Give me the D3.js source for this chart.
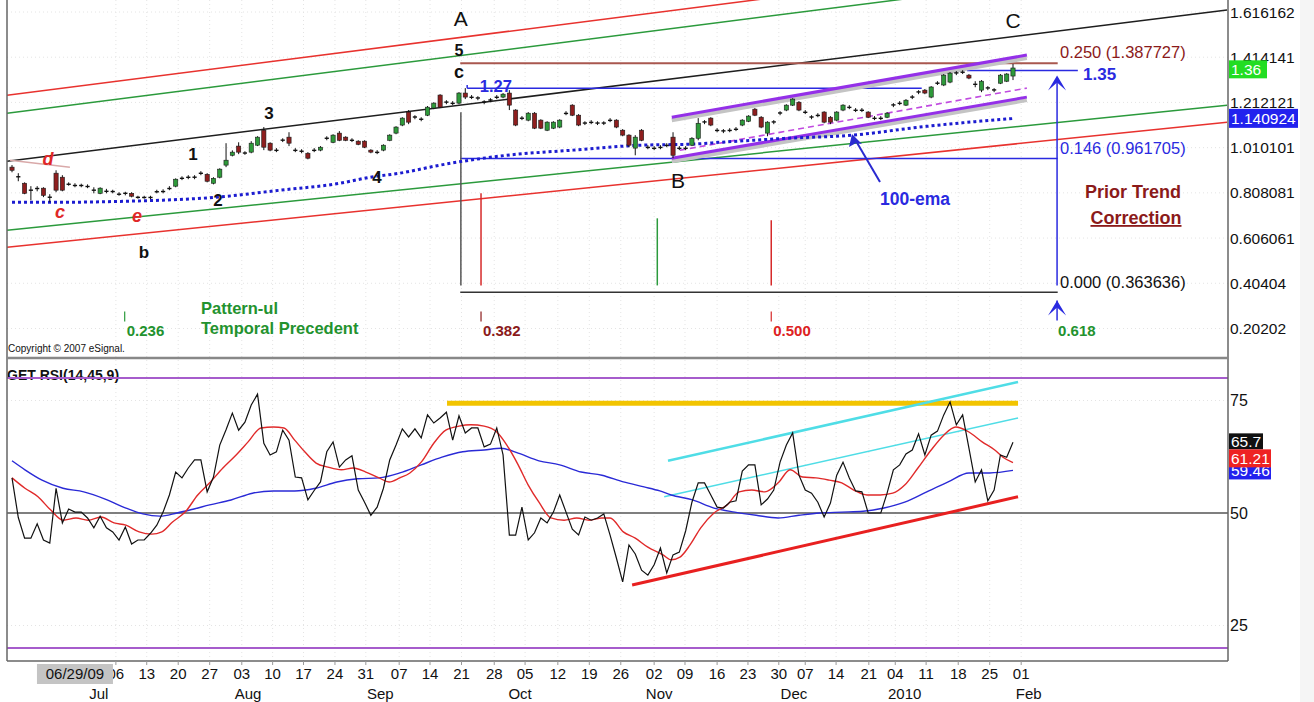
<!DOCTYPE html>
<html><head><meta charset="utf-8">
<script src="https://cdn.jsdelivr.net/npm/d3@7"></script>
<style>
html,body{margin:0;padding:0;background:#fff;}
svg{display:block;font-family:"Liberation Sans",Arial,sans-serif;}
</style></head><body>
<svg id="c" width="1314" height="702"></svg>
<script>
// ---------------- DATA ----------------
const openP=[.923,.882,.851,.822,.829,.829,.791,.896,.878,.849,.842,.840,.838,.822,.806,.817,.813,.804,.804,.806,.790,.786,.789,.811,.815,.826,.838,.872,.876,.879,.894,.891,.851,.878,.932,.976,1.017,.987,.990,1.021,1.088,1.030,.999,1.042,1.057,.999,.993,.985,.997,.999,1.053,1.034,1.075,1.057,1.044,1.039,1.039,.999,.990,.999,1.043,1.075,1.111,1.169,1.146,1.138,1.155,1.187,1.245,1.212,1.209,1.209,1.254,1.236,1.231,1.215,1.222,1.236,1.236,1.254,1.178,1.143,1.133,1.164,1.133,1.088,1.097,1.102,1.164,1.200,1.155,1.119,1.124,1.119,1.121,1.133,1.133,1.088,1.066,1.008,1.088,1.012,1.008,1.010,1.021,1.057,1.008,1.006,1.021,1.052,1.124,1.142,1.088,1.084,1.086,1.093,1.111,1.128,1.182,1.146,1.075,1.124,1.164,1.178,1.200,1.213,1.169,1.146,1.155,1.169,1.146,1.133,1.178,1.191,1.178,1.176,1.169,1.142,1.140,1.146,1.200,1.209,1.200,1.234,1.258,1.267,1.236,1.296,1.290,1.303,1.343,1.348,1.334,1.294,1.267,1.276,1.267,1.298,1.307,1.330];
const highP=[.932,.896,.855,.838,.838,.833,.802,.909,.887,.855,.851,.849,.846,.833,.833,.826,.822,.811,.813,.811,.795,.795,.795,.822,.824,.838,.873,.882,.887,.887,.905,.896,.878,.918,1.030,.998,1.034,.994,1.039,1.061,1.102,1.034,1.008,1.052,1.079,1.008,1.003,.990,1.008,1.017,1.061,1.070,1.084,1.061,1.052,1.043,1.043,1.003,.999,1.025,1.070,1.106,1.146,1.178,1.155,1.146,1.196,1.213,1.249,1.222,1.218,1.258,1.276,1.245,1.240,1.222,1.231,1.245,1.254,1.267,1.182,1.151,1.169,1.169,1.137,1.128,1.128,1.137,1.173,1.204,1.160,1.128,1.133,1.128,1.128,1.142,1.137,1.093,1.070,1.066,1.093,1.021,1.017,1.021,1.030,1.079,1.017,1.017,1.057,1.142,1.133,1.146,1.097,1.093,1.097,1.102,1.137,1.155,1.187,1.151,1.128,1.133,1.173,1.204,1.231,1.218,1.178,1.155,1.164,1.173,1.151,1.173,1.204,1.200,1.187,1.187,1.173,1.151,1.151,1.169,1.209,1.218,1.227,1.245,1.267,1.272,1.285,1.307,1.339,1.348,1.352,1.356,1.339,1.307,1.312,1.285,1.276,1.339,1.343,1.384];
const lowP=[.900,.860,.802,.775,.815,.789,.766,.811,.815,.840,.833,.833,.829,.806,.802,.806,.806,.795,.797,.788,.782,.782,.780,.806,.806,.820,.833,.865,.869,.869,.887,.855,.846,.873,.923,.971,.981,.978,.985,1.017,.999,.994,.990,1.035,1.017,.990,.985,.958,.990,.994,1.043,1.030,1.039,1.039,1.035,1.021,1.008,.985,.981,.994,1.039,1.070,1.106,1.115,1.137,1.128,1.151,1.182,1.187,1.204,1.200,1.204,1.227,1.227,1.222,1.204,1.213,1.227,1.231,1.178,1.106,1.133,1.128,1.093,1.093,1.084,1.093,1.097,1.155,1.151,1.106,1.111,1.115,1.111,1.111,1.124,1.097,1.061,1.012,.976,1.039,1.003,.999,1.003,1.012,.963,.999,.999,1.017,1.043,1.115,1.106,1.079,1.075,1.079,1.084,1.106,1.124,1.151,1.097,1.061,1.115,1.155,1.173,1.196,1.173,1.160,1.137,1.146,1.119,1.115,1.128,1.173,1.182,1.169,1.169,1.142,1.133,1.133,1.142,1.191,1.200,1.196,1.227,1.249,1.249,1.231,1.290,1.285,1.298,1.334,1.339,1.316,1.280,1.258,1.267,1.258,1.294,1.303,1.312];
const closeP=[.909,.878,.806,.818,.826,.797,.786,.820,.820,.844,.840,.842,.835,.818,.829,.813,.815,.800,.808,.793,.786,.789,.786,.815,.813,.829,.869,.874,.879,.877,.897,.860,.873,.914,.954,.990,.990,.985,1.030,1.057,1.012,.999,.997,1.045,1.030,.997,.995,.963,.999,1.012,1.051,1.066,1.043,1.043,1.042,1.025,1.012,.990,.988,1.021,1.066,1.102,1.142,1.124,1.148,1.136,1.191,1.209,1.191,1.215,1.207,1.254,1.236,1.234,1.233,1.213,1.224,1.234,1.249,1.200,1.111,1.140,1.164,1.097,1.097,1.124,1.124,1.133,1.162,1.155,1.111,1.121,1.122,1.121,1.119,1.131,1.102,1.066,1.021,1.057,1.043,1.010,1.006,1.012,1.019,.976,1.006,1.008,1.052,1.119,1.126,1.111,1.086,1.086,1.088,1.091,1.133,1.151,1.155,1.102,1.124,1.126,1.166,1.200,1.227,1.178,1.167,1.148,1.153,1.124,1.124,1.169,1.200,1.189,1.176,1.178,1.146,1.140,1.142,1.164,1.202,1.207,1.222,1.238,1.260,1.254,1.281,1.300,1.334,1.343,1.345,1.346,1.321,1.292,1.307,1.278,1.269,1.334,1.339,1.366];

// 100-ema readings [bar, price]
const emaBars=[0,7.6,17.2,23.5,32.2,42.6,52.1,56.9,61.6,68,78.6,89.1,99.8,108.2,112.5,123.1,133.6,144.2,159];
const emaVals=[0.766,0.766,0.770,0.775,0.788,0.820,0.851,0.878,0.896,0.932,0.976,0.999,1.021,1.026,1.034,1.052,1.066,1.102,1.141];

// RSI(14) per bar
const rsi=[57.8,49,44.4,44.4,47.6,44,43.3,55.5,47.8,50.9,50.2,50.2,48.9,46.7,49.3,46.7,45.8,44,46.9,43.1,44,44,45.5,47.3,50.2,54,59.1,57.8,60,61.8,61.8,54.7,58,65.1,68.5,72.2,68.4,70.2,74,76.4,65.5,62.9,63.6,68.4,66.2,58,57.8,52.9,55,56.9,63.6,65.8,60.2,61.8,62.7,55.1,52.4,49.5,51.3,55.5,61.8,65.1,68.7,66.9,68.7,66.7,71.8,70,71.1,72.4,66.2,71.6,67.8,68.9,68.9,64.7,65.3,68.9,62.9,45.1,45.1,51.3,44,45.6,48.9,47.8,50.2,54,50.2,46.4,45.1,49.1,48.4,48.9,49.8,45.1,40,34.7,42.9,40.9,37.3,36.2,38.5,42.2,36.7,40.7,41.3,46,52.4,56.7,56.7,54,51.3,51.1,52.4,52.7,59.3,60.7,60.7,51.8,53.1,55.1,61.3,65.1,67.8,58.4,55.1,54.4,52.4,49.1,52.2,58.4,61.3,57.8,54.9,54.7,50,50,50,54.4,59.6,60.7,63.1,64,67.6,62.9,67.3,68.2,71.8,74.7,69.6,71.8,64.4,56.9,59.6,52.7,55.1,62.9,62.4,65.7];
// RSI 9-period average readings
const ma9Bars=[0,2.06,4.13,6.12,8.1,10.17,12.07,14.14,16.2,18.1,20.2,22.2,23.8,25.5,27.5,29.5,31.4,33.5,35.6,37.5,39.55,41.5,43.2,44.9,46.5,48.3,50.2,52.3,54.2,56.2,58.3,59.9,61.6,63.2,65,67,68.9,71,72.9,75,77,78.6,80.4,82,83.7,85.6,87.7,89.7,91.7,93.7,95,97.1,99,101,103.4,104.7,106.1,107.7,109.4,111.5,113.6,115.5,117.5,119.6,121.7,123.6,125.6,127.7,129.8,131.8,133.7,135.8,137.9,139.9,141.8,143.9,146,148,149.9,152,154.1,156.1,157.4,159];
const ma9Vals=[57.8,55.5,53.6,50.7,48.4,48.9,48.4,49.1,47.8,47.3,45.8,45.3,45.8,48,50.2,54,56.7,60,62.9,65.8,68.9,69.1,68.9,66.2,63.6,61.1,60.2,59.6,60,59.1,57.8,56.9,57.8,58.9,61.3,65.5,68.4,69.3,69.6,69.3,68,65.1,60.7,56.2,52.4,48.9,48.4,48.9,48.4,48.9,48.9,45.8,44.4,42.4,40.7,39.6,40.2,42.9,46.7,50,51.8,54.7,55.1,54.7,56.7,59.6,58,57.8,57.3,56.7,55.1,54,54,54.4,56.2,60,64,67.3,69.1,68,65.8,64,62.4,61.21];
// RSI 45-period average readings
const ma45Bars=[0,2.06,4.77,8.1,11.4,14.8,18.1,20.8,23.5,26.2,28.9,31.4,34.8,38.2,41.5,44.9,48.2,51.6,54.9,58.3,61.6,65,68.3,71.6,75,77.7,80.4,83.7,87,90.4,93.7,97.1,100.4,102.9,104.7,108.1,111.5,114.8,118.2,121.7,125,128.3,131.8,135.2,138.5,141.8,145.3,148.7,152,155.3,159];
const ma45Vals=[61.6,59.6,57.3,55.5,54.7,53.1,51.1,49.8,49.3,50,50.9,51.8,52.9,54.4,54.9,54.9,55.5,56.9,57.6,57.8,58.9,60.7,62.4,63.6,64,64.4,63.3,61.6,60.7,59.1,58.4,56.9,55.8,54.9,54,52.9,51.1,50.2,49.5,48.9,49.5,50,50.2,50.4,51.1,52.4,54.7,56.9,58.9,58.9,59.46];

// axis tick labels
const priceTicks=[1.616162,1.414141,1.212121,1.010101,0.808081,0.606061,0.40404,0.20202];
const priceTickLabels=['1.616162','1.414141','1.212121','1.010101','0.808081','0.606061','0.40404','0.20202'];
const rsiTicks=[75,50,25];
const weekTickBars=[16.5,21.4,26.4,31.4,36.5,41.4,46.3,51.3,56.2,61.5,66.4,71.4,76.6,81.5,86.7,91.7,96.7,102.0,106.9,112.0,116.9,121.8,126.0,130.9,136.1,140.3,145.2,150.3,155.3,160.3];
const weekTickLabels=['06','13','20','27','03','10','17','24','31','07','14','21','28','05','12','19','26','02','09','16','23','30','07','14','21','04','11','18','25','01'];
const monthLabels=['Jul','Aug','Sep','Oct','Nov','Dec','2010','Feb'];
const monthBars=[13.8,37.5,58.5,80.7,102.8,124.2,141.8,161.5];
const cursorDate='06/29/09', cursorBar=10.0;

// annotation levels (bar, price)
const channelLines=[
 {b1:-0.79,p1:1.2447,b2:193,p2:1.9384,c:'#e8322e'},
 {b1:-0.79,p1:1.1642,b2:193,p2:1.8578,c:'#2b9a3c'},
 {b1:-0.79,p1:0.9494,b2:193,p2:1.6251,c:'#1e1e1e'},
 {b1:-0.79,p1:0.6406,b2:193,p2:1.2000,c:'#2b9a3c'},
 {b1:-0.79,p1:0.5645,b2:193,p2:1.1239,c:'#e8322e'}
];
const fibLevels=[0.250,0.146,0.000];
const fibPrices=[1.387727,0.961705,0.363636];
const lastClose=1.36, lastEma=1.140924;
const rsiLast=65.7, ma9Last=61.21, ma45Last=59.46;

// ---------------- DRAW ----------------
const svg=d3.select('#c');
const L=7,R=1228,PT=0,PB=357,RT=359,RB=661;
const x=d3.scaleLinear().domain([0,159]).range([12,1013]);
const yP=d3.scaleLinear().domain([0.20202,1.616162]).range([328.5,12]);
const yR=d3.scaleLinear().domain([25,75]).range([625.5,400.5]);

svg.append('rect').attr('width',1314).attr('height',702).attr('fill','#fff');
svg.append('rect').attr('x',1300).attr('width',14).attr('height',702).attr('fill','#f5f5f5');
const defs=svg.append('defs');
defs.append('clipPath').attr('id','cp').append('rect').attr('x',L).attr('y',PT).attr('width',R-L).attr('height',PB-PT);
defs.append('clipPath').attr('id','cr').append('rect').attr('x',L).attr('y',RT).attr('width',R-L).attr('height',RB-RT);

// faint grid
const grid=svg.append('g').attr('stroke','#e4e4e4').attr('stroke-dasharray','1,3').attr('stroke-width',1);
weekTickBars.forEach(b=>{grid.append('line').attr('x1',x(b)).attr('x2',x(b)).attr('y1',PT).attr('y2',RB);});
priceTicks.forEach(p=>{grid.append('line').attr('x1',L).attr('x2',R).attr('y1',yP(p)).attr('y2',yP(p));});
[75,25].forEach(v=>{grid.append('line').attr('x1',L).attr('x2',R).attr('y1',yR(v)).attr('y2',yR(v));});

const gp=svg.append('g').attr('clip-path','url(#cp)');
// channel lines
channelLines.forEach(l=>{
  gp.append('line').attr('x1',x(l.b1)).attr('y1',yP(l.p1)).attr('x2',x(l.b2)).attr('y2',yP(l.p2))
   .attr('stroke',l.c).attr('stroke-width',1.5);
});
// small 'd' line
gp.append('line').attr('x1',x(-0.3)).attr('y1',yP(0.9539)).attr('x2',x(9.2)).attr('y2',yP(0.9226)).attr('stroke','#d9a9a9').attr('stroke-width',1.5);

// fib horizontal levels
const fx1=71.2,fx2=166.1;
gp.append('line').attr('x1',x(fx1)).attr('x2',x(fx2)).attr('y1',yP(fibPrices[0])).attr('y2',yP(fibPrices[0])).attr('stroke','#a9574f').attr('stroke-width',2);
gp.append('line').attr('x1',x(fx1)).attr('x2',x(fx2)).attr('y1',yP(fibPrices[1])).attr('y2',yP(fibPrices[1])).attr('stroke','#2a2ae0').attr('stroke-width',1.5);
gp.append('line').attr('x1',x(fx1)).attr('x2',x(fx2)).attr('y1',yP(fibPrices[2])).attr('y2',yP(fibPrices[2])).attr('stroke','#333').attr('stroke-width',1.5);
// 1.27 and 1.35 lines
gp.append('line').attr('x1',x(72.3)).attr('x2',x(144.5)).attr('y1',yP(1.275)).attr('y2',yP(1.275)).attr('stroke','#2a2ae0').attr('stroke-width',1.5);
gp.append('line').attr('x1',x(72.3)).attr('x2',x(72.3)).attr('y1',yP(1.275)).attr('y2',yP(1.29)).attr('stroke','#2a2ae0').attr('stroke-width',1.5);
gp.append('line').attr('x1',x(151.7)).attr('x2',x(169.3)).attr('y1',yP(1.355)).attr('y2',yP(1.355)).attr('stroke','#2a2ae0').attr('stroke-width',1.5);
// verticals
const vbot=0.3945;
[[71.3,1.1687,'#555'],[74.5,0.8062,'#d62a2a'],[102.5,0.6943,'#2b9a3c'],[120.6,0.6853,'#d62a2a'],[166.0,1.3119,'#2a2ae0']].forEach(v=>{
  gp.append('line').attr('x1',x(v[0])).attr('x2',x(v[0])).attr('y1',yP(v[1])).attr('y2',yP(vbot)).attr('stroke',v[2]).attr('stroke-width',1.5);
});
// fib time ticks
[[17.9,'#2b9a3c'],[74.5,'#8b1a1a'],[120.6,'#d62a2a']].forEach(t=>{
  gp.append('line').attr('x1',x(t[0])).attr('x2',x(t[0])).attr('y1',yP(0.2781)).attr('y2',yP(0.2334)).attr('stroke',t[1]).attr('stroke-width',1.2);
});
// arrowheads on blue vertical
const ax=x(166.0);
function arrowUp(tipY){
  gp.append('path').attr('d',`M${ax-9},${tipY+15} L${ax},${tipY} L${ax+9},${tipY+15} L${ax},${tipY+7} Z`).attr('fill','#2a2ae0');
}
arrowUp(yP(1.35)+4);
arrowUp(yP(0.3274));
gp.append('line').attr('x1',ax).attr('x2',ax).attr('y1',yP(0.3274)).attr('y2',yP(0.3274)+20).attr('stroke','#2a2ae0').attr('stroke-width',1.5);

// purple channel
const purple=[{b1:104.8,p1:1.1463,b2:161.2,p2:1.4237},{b1:104.8,p1:0.9628,b2:161.2,p2:1.2358}];
purple.forEach(l=>{
  gp.append('line').attr('x1',x(l.b1)).attr('y1',yP(l.p1)+3).attr('x2',x(l.b2)).attr('y2',yP(l.p2)+3).attr('stroke','#c4c4c4').attr('stroke-width',4);
});
purple.forEach(l=>{
  gp.append('line').attr('x1',x(l.b1)).attr('y1',yP(l.p1)).attr('x2',x(l.b2)).attr('y2',yP(l.p2)).attr('stroke','#9430e8').attr('stroke-width',3);
});
gp.append('line').attr('x1',x(106.1)).attr('y1',yP(0.9986)).attr('x2',x(161.2)).attr('y2',yP(1.2761)).attr('stroke','#c04ae0').attr('stroke-width',1.6).attr('stroke-dasharray','6,4');

// ema dotted
const emaLine=d3.line().x((d,i)=>x(emaBars[i])).y(d=>yP(d)).curve(d3.curveMonotoneX);
gp.append('path').attr('d',emaLine(emaVals)).attr('fill','none').attr('stroke','#1c1cd0').attr('stroke-width',3).attr('stroke-dasharray','3,3');

// candles
const cw=4.2;
const cg=gp.append('g');
openP.forEach((o,i)=>{
  const c=closeP[i],h=highP[i],l=lowP[i];
  cg.append('line').attr('x1',x(i)).attr('x2',x(i)).attr('y1',yP(h)).attr('y2',yP(l)).attr('stroke','#111').attr('stroke-width',1);
  const top=yP(Math.max(o,c)),bot=yP(Math.min(o,c));
  const hgt=bot-top;
  if(hgt<1.6){
    cg.append('line').attr('x1',x(i)-cw/2).attr('x2',x(i)+cw/2).attr('y1',(top+bot)/2).attr('y2',(top+bot)/2).attr('stroke','#111').attr('stroke-width',1.4);
  } else {
    cg.append('rect').attr('x',x(i)-cw/2).attr('y',top).attr('width',cw).attr('height',hgt)
      .attr('fill',c>=o?'#2e9a3a':'#8e1e1e').attr('stroke','#1a1a1a').attr('stroke-width',0.6);
  }
});

// ---- price panel texts ----
const T=svg.append('g');
function txt(s,xx,yy,o){
  const t=T.append('text').attr('x',xx).attr('y',yy).text(s)
   .attr('font-size',o.fs||16).attr('fill',o.c||'#111')
   .attr('font-weight',o.b?'bold':'normal').attr('text-anchor',o.a||'start');
  if(o.i) t.attr('font-style','italic');
  if(o.u) t.attr('text-decoration','underline');
  return t;
}
txt('A',x(71.3),26,{fs:21,a:'middle'});
txt('5',x(71),56,{fs:16,b:1,a:'middle'});
txt('c',x(71),78,{fs:18,b:1,a:'middle'});
txt('1.27',x(74.3),92,{fs:16.5,b:1,c:'#2a2ae0'});
txt('B',x(105.8),188,{fs:21,a:'middle'});
txt('C',x(159),28,{fs:21,a:'middle'});
txt('1',193,160,{fs:17,b:1,a:'middle'});
txt('2',218,206,{fs:17,b:1,a:'middle'});
txt('3',269,119,{fs:17,b:1,a:'middle'});
txt('4',377,183,{fs:17,b:1,a:'middle'});
txt('d',48,165,{fs:18,b:1,i:1,c:'#e02828',a:'middle'});
txt('c',60,218,{fs:18,b:1,i:1,c:'#e02828',a:'middle'});
txt('e',137,222,{fs:18,b:1,i:1,c:'#e02828',a:'middle'});
txt('b',144,258,{fs:17,b:1,a:'middle'});
txt('0.250 (1.387727)',1060,58,{fs:16.5,c:'#8b1a1a'});
txt('1.35',1083,80,{fs:17,b:1,c:'#2a2ae0'});
txt('0.146 (0.961705)',1060,154,{fs:16.5,c:'#2a2ae0'});
txt('Prior Trend',1133,198,{fs:18,b:1,c:'#8b1a1a',a:'middle'});
txt('Correction',1136,224,{fs:18,b:1,c:'#8b1a1a',a:'middle',u:1});
txt('0.000 (0.363636)',1060,288,{fs:16.5,c:'#111'});
txt('100-ema',880,205,{fs:17.5,b:1,c:'#2a2ae0'});
txt('Pattern-ul',201,314,{fs:16.5,b:1,c:'#23922e'});
txt('Temporal Precedent',201,334,{fs:16.5,b:1,c:'#23922e'});
txt('0.236',x(17.9)+2,336,{fs:15,b:1,c:'#23922e'});
txt('0.382',x(74.5)+2,336,{fs:15,b:1,c:'#8b1a1a'});
txt('0.500',x(120.6)+2,336,{fs:15,b:1,c:'#dd2222'});
txt('0.618',x(166.0)+1,336,{fs:15,b:1,c:'#23922e'});
txt('Copyright \u00A9 2007 eSignal.',8,352,{fs:10});
// 100-ema arrow
T.append('line').attr('x1',880).attr('y1',182).attr('x2',856).attr('y2',141).attr('stroke','#2a2ad0').attr('stroke-width',2);
T.append('path').attr('d','M852,134 L849,147 L856,143 L862,144 Z').attr('fill','#2a2ad0');

// ---- RSI panel ----
const gr=svg.append('g').attr('clip-path','url(#cr)');
gr.append('line').attr('x1',L).attr('x2',R).attr('y1',yR(80)).attr('y2',yR(80)).attr('stroke','#a65ccc').attr('stroke-width',2);
gr.append('line').attr('x1',L).attr('x2',R).attr('y1',yR(20)).attr('y2',yR(20)).attr('stroke','#a65ccc').attr('stroke-width',2);
gr.append('line').attr('x1',L).attr('x2',R).attr('y1',yR(50)).attr('y2',yR(50)).attr('stroke','#555').attr('stroke-width',1.6);
// annotation lines on RSI
gr.append('line').attr('x1',x(69.1)).attr('x2',x(159.8)).attr('y1',yR(74.4)).attr('y2',yR(74.4)).attr('stroke','#f2c400').attr('stroke-width',5);
gr.append('line').attr('x1',x(104.2)).attr('y1',yR(61.6)).attr('x2',x(159.8)).attr('y2',yR(79.1)).attr('stroke','#4fdde6').attr('stroke-width',2.5);
gr.append('line').attr('x1',x(103.6)).attr('y1',yR(53.6)).attr('x2',x(159.8)).attr('y2',yR(71.1)).attr('stroke','#4fdde6').attr('stroke-width',1.5);
gr.append('line').attr('x1',x(98.5)).attr('y1',yR(34)).attr('x2',x(159.8)).attr('y2',yR(53.6)).attr('stroke','#e82020').attr('stroke-width',3);

const ma45Line=d3.line().x((d,i)=>x(ma45Bars[i])).y(d=>yR(d)).curve(d3.curveMonotoneX);
const ma9Line=d3.line().x((d,i)=>x(ma9Bars[i])).y(d=>yR(d)).curve(d3.curveMonotoneX);
const rsiLine=d3.line().x((d,i)=>x(i)).y(d=>yR(d));
gr.append('path').attr('d',ma45Line(ma45Vals)).attr('fill','none').attr('stroke','#2a2ad6').attr('stroke-width',1.4);
gr.append('path').attr('d',ma9Line(ma9Vals)).attr('fill','none').attr('stroke','#e02a2a').attr('stroke-width',1.4);
gr.append('path').attr('d',rsiLine(rsi)).attr('fill','none').attr('stroke','#111').attr('stroke-width',1.2);

txt('GET RSI(14,45,9)',7,380,{fs:14,b:1});

// ---- frames and axes ----
const F=svg.append('g').attr('stroke','#666').attr('fill','none');
F.append('line').attr('x1',L).attr('x2',L).attr('y1',0).attr('y2',RB).attr('stroke-width',1.5);
F.append('line').attr('x1',R).attr('x2',R).attr('y1',0).attr('y2',RB).attr('stroke-width',1.5);
F.append('line').attr('x1',L).attr('x2',R).attr('y1',PB+1).attr('y2',PB+1).attr('stroke-width',2.5).attr('stroke','#888');
F.append('line').attr('x1',L).attr('x2',R).attr('y1',RB).attr('y2',RB).attr('stroke-width',1.5);
// tick marks on bottom
weekTickBars.forEach(b=>{F.append('line').attr('x1',x(b)).attr('x2',x(b)).attr('y1',RB).attr('y2',RB+4).attr('stroke','#999');});

// price axis labels
priceTicks.forEach((p,i)=>{
  T.append('text').attr('x',1230).attr('y',yP(p)).attr('dy','0.36em').text(priceTickLabels[i]).attr('font-size',15.5).attr('fill','#111');
});
// value boxes price
function vbox(yc,w,h,fill,label){
  T.append('rect').attr('x',1229).attr('y',yc-h/2).attr('width',w).attr('height',h).attr('fill',fill);
  T.append('text').attr('x',1231).attr('y',yc).attr('dy','0.36em').text(label).attr('font-size',15.5).attr('fill','#fff');
}
vbox(yP(lastClose),38,18,'#22dd22','1.36');
vbox(yP(lastEma),69,19,'#2222ee','1.140924');

// RSI axis
rsiTicks.forEach(v=>{
  T.append('text').attr('x',1230).attr('y',yR(v)).attr('dy','0.36em').text(v).attr('font-size',16).attr('fill','#111');
});
vbox(yR(ma45Last),42,18,'#2222ee',String(ma45Last));
vbox(yR(rsiLast)+(-1),34,16,'#111','65.7');
vbox(yR(rsiLast)+16,42,18,'#ee2222',String(ma9Last));

// x axis labels
weekTickBars.forEach((b,i)=>{
  T.append('text').attr('x',x(b)).attr('y',679).attr('text-anchor','middle').text(weekTickLabels[i]).attr('font-size',15).attr('fill','#111');
});
monthBars.forEach((b,i)=>{
  T.append('text').attr('x',x(b)).attr('y',699).attr('text-anchor','middle').text(monthLabels[i]).attr('font-size',15).attr('fill','#111');
});
const cbx=x(cursorBar);
T.append('rect').attr('x',cbx-38).attr('y',664).attr('width',76).attr('height',20).attr('fill','#c4c4c4');
T.append('text').attr('x',cbx).attr('y',679).attr('text-anchor','middle').text(cursorDate).attr('font-size',15).attr('fill','#111');
</script>
</body></html>
